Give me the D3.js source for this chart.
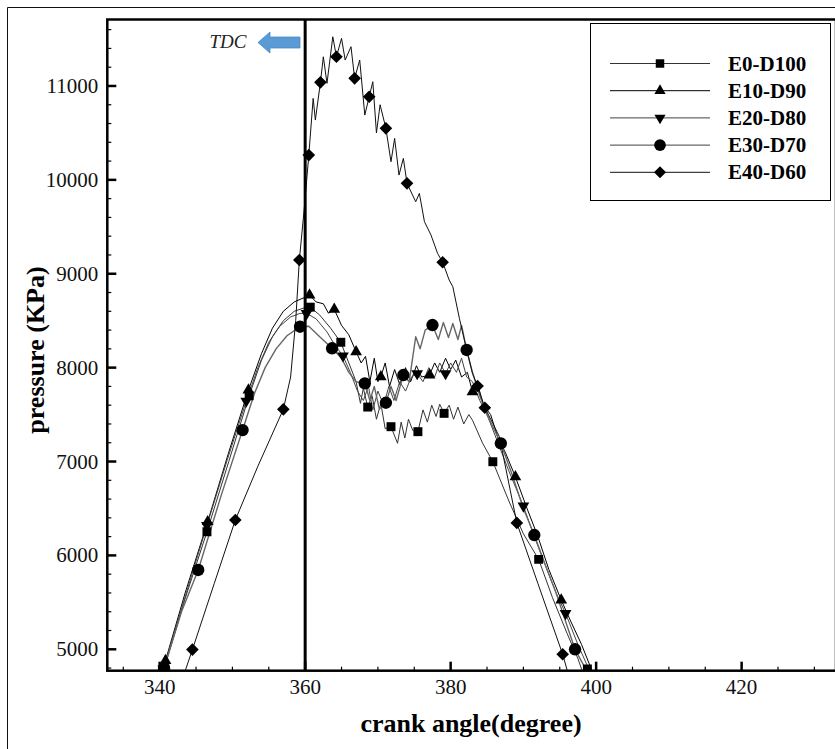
<!DOCTYPE html>
<html>
<head>
<meta charset="utf-8">
<script src="https://cdn.jsdelivr.net/npm/d3@7"></script>
<style>
  body { margin: 0; background: #fff; }
  svg { display: block; }
</style>
</head>
<body>
<svg id="chart" width="835" height="749"></svg>
<script>
// series names, shown in the legend
var seriesNames = ["E0-D100", "E10-D90", "E20-D80", "E30-D70", "E40-D60"];

// line data [crank angle, pressure kPa]
var lineE0 = [[340.3,4700],[340.7,4815],[343.5,5540],[346.5,6252],[349.5,7000],[352.3,7700],[354,8080],[355.5,8330],[357,8500],[358.5,8600],[360.0,8640],[360.7,8644],[362.0,8560],[363.5,8420],[364.9,8270],[366.0,8050],[367.0,7850],[367.6,7620],[368.0,7780],[368.6,7580],[369.2,7700],[369.8,7450],[370.4,7620],[371.0,7350],[371.8,7371],[372.7,7194],[373.2,7420],[373.7,7250],[374.2,7450],[374.8,7330],[375.5,7318],[376.2,7550],[376.8,7420],[377.4,7600],[378.0,7480],[378.5,7610],[379.1,7513],[379.8,7600],[380.4,7450],[381.0,7580],[381.8,7400],[382.5,7500],[383.0,7440],[384.4,7194],[385.8,6998],[388,6580],[390,6230],[392.1,5958],[394,5550],[396,5170],[397.5,4900],[398.4,4700]];
var lineE10 = [[340.4,4700],[340.8,4880],[343.5,5600],[346.6,6359],[349.5,7100],[352.2,7760],[354,8150],[355.5,8420],[357,8600],[358.5,8700],[360.0,8750],[360.6,8773],[361.5,8700],[362.5,8680],[363.2,8580],[364.0,8621],[365.0,8450],[366.0,8350],[367.0,8169],[367.7,8050],[368.3,8120],[368.9,7850],[369.5,8100],[370.0,7850],[370.4,7903],[371.0,8050],[371.6,7800],[372.3,7980],[373.0,7820],[373.8,8000],[374.5,7850],[375.3,8020],[376.0,7900],[377.1,7921],[377.8,8050],[378.5,7950],[379.3,8100],[380.0,7980],[380.7,8080],[381.5,7900],[382.3,7950],[383.0,7743],[383.8,7800],[384.5,7600],[385.5,7500],[386.5,7250],[387.5,7100],[388.9,6838],[390.5,6500],[392,6200],[393.5,5850],[395.2,5525],[396.5,5300],[398,5050],[399.8,4700]];
var lineE20 = [[340.3,4700],[340.5,4790],[343.5,5560],[346.5,6320],[349.3,7020],[351.9,7644],[353.5,8000],[355,8270],[356.5,8440],[358,8540],[359.3,8578],[360.2,8578],[361.5,8520],[363,8380],[364,8250],[365.2,8126],[366.2,7950],[367.2,7750],[368,7650],[368.7,7800],[369.3,7550],[370,7750],[370.8,7600],[371.5,7800],[372.2,7650],[373,7850],[373.8,7750],[374.6,7900],[375.4,7937],[376.2,7850],[377,8000],[377.8,7900],[378.5,8050],[379.3,7937],[380,8050],[380.8,7950],[381.5,8100],[382.2,7900],[383,7850],[384,7650],[385,7500],[386.5,7200],[388,6900],[390,6526],[391.5,6200],[393,5900],[394.5,5600],[395.8,5383],[397.5,5050],[399.5,4700]];
var lineE30 = [[340.3,4700],[340.6,4800],[343,5400],[345.3,5845],[348.5,6650],[351.4,7335],[353,7720],[354.5,8000],[356,8200],[357.5,8340],[359.3,8436],[360.5,8440],[362,8330],[363.7,8206],[365,8100],[366,7950],[367,7850],[368.2,7833],[368.9,7650],[369.5,7800],[370.2,7560],[371.1,7626],[371.8,7800],[372.5,7650],[373.5,7921],[374.3,7850],[375.2,8330],[375.8,8200],[376.5,8400],[377.5,8454],[378.3,8300],[379,8480],[379.7,8320],[380.3,8470],[381,8300],[381.5,8450],[382.2,8188],[383,7950],[384,7700],[385,7500],[386.9,7194],[388.5,6850],[390,6500],[391.5,6217],[393,5900],[394.5,5600],[396,5250],[397.1,5000],[399.2,4700]];
var lineE40 = [[343.2,4700],[344.5,4997],[347.5,5700],[350.4,6377],[353.5,6950],[357.0,7556],[358.0,7900],[358.7,8500],[359.2,9146],[359.9,9714],[360.5,10264],[361.1,10868],[361.4,10637],[362.1,11039],[362.5,11311],[363.0,11028],[363.8,11524],[364.3,11311],[365.0,11507],[365.5,11276],[366.3,11418],[366.8,11081],[367.5,11276],[368.2,10690],[368.8,10885],[369.3,11045],[369.8,10500],[370.3,10800],[371.1,10549],[371.8,10193],[372.3,10442],[372.9,10051],[373.5,10229],[374.0,9963],[375.2,9767],[375.7,9856],[376.4,9554],[377.3,9412],[378.2,9217],[378.9,9122],[379.8,8933],[380.3,8862],[381.2,8525],[382.1,8223],[383.0,7939],[383.7,7804],[384.7,7573],[385.8,7407],[386.7,7264],[389.1,6346],[392,5700],[395.4,4947],[396.3,4700]];

// marker positions [crank angle, pressure kPa]
var markE0 = [[340.7,4815],[346.5,6252],[352.3,7700],[360.7,8644],[364.9,8270],[368.6,7580],[371.8,7371],[375.5,7318],[379.1,7513],[385.8,6998],[392.1,5958],[398.8,4790]];
var markE10 = [[340.8,4880],[346.6,6359],[352.2,7760],[360.6,8773],[364.0,8621],[367.0,8169],[370.4,7903],[377.1,7921],[383.0,7743],[388.9,6838],[395.2,5525]];
var markE20 = [[340.5,4790],[346.5,6320],[351.9,7644],[360.2,8578],[365.2,8126],[375.4,7937],[379.3,7937],[390.0,6526],[395.8,5383]];
var markE30 = [[340.6,4800],[345.3,5845],[351.4,7335],[359.3,8436],[363.7,8206],[368.2,7833],[371.1,7626],[373.5,7921],[377.5,8454],[382.2,8188],[386.9,7194],[391.5,6217],[397.1,5000]];
var markE40 = [[344.5,4997],[350.4,6377],[357.0,7556],[359.2,9146],[360.5,10264],[362.1,11039],[364.3,11311],[366.8,11081],[368.8,10885],[371.1,10549],[374.0,9963],[378.9,9122],[383.7,7804],[384.7,7573],[389.1,6346],[395.4,4947]];

var xTicks = [340, 360, 380, 400, 420];
var yTicks = [5000, 6000, 7000, 8000, 9000, 10000, 11000];
var tdcAngle = 360;

var svg = d3.select("#chart");
var pLeft = 107.3, pRight = 834, pTop = 19.5, pBottom = 670.7;

var x = d3.scaleLinear().domain([332.8, 432.7]).range([pLeft, pRight]);
var y = d3.scaleLinear().domain([4772, 11708]).range([pBottom, pTop]);

// outer frame of the figure
svg.append("path")
  .attr("d", "M7.5,749 V7.5 H835")
  .attr("fill", "none")
  .attr("stroke", "#111")
  .attr("stroke-width", 1);

svg.append("defs").append("clipPath").attr("id", "plotClip")
  .append("rect")
  .attr("x", pLeft).attr("y", pTop)
  .attr("width", pRight - pLeft).attr("height", pBottom - pTop);

var series = [
  { name: seriesNames[0], line: lineE0, marks: markE0, sym: d3.symbolSquare, size: 80, rot: 0, color: "#333", w: 1 },
  { name: seriesNames[1], line: lineE10, marks: markE10, sym: d3.symbolTriangle, size: 60, rot: 0, color: "#000", w: 1 },
  { name: seriesNames[2], line: lineE20, marks: markE20, sym: d3.symbolTriangle, size: 60, rot: 180, color: "#444", w: 1 },
  { name: seriesNames[3], line: lineE30, marks: markE30, sym: d3.symbolCircle, size: 120, rot: 0, color: "#666", w: 1.4 },
  { name: seriesNames[4], line: lineE40, marks: markE40, sym: d3.symbolSquare, size: 80, rot: 45, color: "#111", w: 1 }
];

var plot = svg.append("g").attr("clip-path", "url(#plotClip)");
var line = d3.line().x(d => x(d[0])).y(d => y(d[1]));

series.forEach(function(s) {
  plot.append("path")
    .datum(s.line)
    .attr("d", line)
    .attr("fill", "none")
    .attr("stroke", s.color)
    .attr("stroke-width", s.w)
    .attr("stroke-linejoin", "round");
});

series.forEach(function(s) {
  plot.selectAll(null)
    .data(s.marks)
    .enter()
    .append("path")
    .attr("d", d3.symbol().type(s.sym).size(s.size))
    .attr("transform", d => "translate(" + x(d[0]) + "," + y(d[1]) + ")rotate(" + s.rot + ")")
    .attr("fill", "#000");
});

// TDC line
svg.append("line")
  .attr("x1", x(tdcAngle)).attr("x2", x(tdcAngle))
  .attr("y1", pTop).attr("y2", pBottom)
  .attr("stroke", "#000")
  .attr("stroke-width", 3);

// TDC label and arrow
svg.append("text")
  .attr("x", 228).attr("y", 48)
  .attr("text-anchor", "middle")
  .style("font-family", "Liberation Serif, serif")
  .style("font-style", "italic")
  .style("font-size", "19px")
  .attr("fill", "#222")
  .text("TDC");

svg.append("path")
  .attr("d", "M258,42.5 L270,32 L270,37 L300,37 L300,48 L270,48 L270,53 Z")
  .attr("fill", "#5b9bd5")
  .attr("stroke", "#4a8ac4")
  .attr("stroke-width", 0.8);

// axes, ticks inside
var minorX = d3.range(335, 433, 5).filter(v => xTicks.indexOf(v) < 0);
var minorY = d3.range(4800, 11700, 200).filter(v => yTicks.indexOf(v) < 0);

var axes = svg.append("g").attr("stroke", "#000");
axes.selectAll(null).data(xTicks).enter().append("line")
  .attr("x1", d => x(d)).attr("x2", d => x(d))
  .attr("y1", pBottom).attr("y2", pBottom - 9)
  .attr("stroke-width", 2.5);
axes.selectAll(null).data(minorX).enter().append("line")
  .attr("x1", d => x(d)).attr("x2", d => x(d))
  .attr("y1", pBottom).attr("y2", pBottom - 4)
  .attr("stroke-width", 1.2);
axes.selectAll(null).data(yTicks).enter().append("line")
  .attr("x1", pLeft).attr("x2", pLeft + 9)
  .attr("y1", d => y(d)).attr("y2", d => y(d))
  .attr("stroke-width", 2.5);
axes.selectAll(null).data(minorY).enter().append("line")
  .attr("x1", pLeft).attr("x2", pLeft + 4)
  .attr("y1", d => y(d)).attr("y2", d => y(d))
  .attr("stroke-width", 1.2);

svg.append("rect")
  .attr("x", pLeft).attr("y", pTop)
  .attr("width", pRight - pLeft + 2).attr("height", pBottom - pTop)
  .attr("fill", "none")
  .attr("stroke", "#000")
  .attr("stroke-width", 2.5);

svg.selectAll(".xlab").data(xTicks).enter().append("text")
  .attr("x", d => x(d)).attr("y", pBottom + 23)
  .attr("text-anchor", "middle")
  .style("font-family", "Liberation Serif, serif")
  .style("font-size", "21px")
  .attr("fill", "#111")
  .text(d => d);

svg.selectAll(".ylab").data(yTicks).enter().append("text")
  .attr("x", pLeft - 9).attr("y", d => y(d) + 7)
  .attr("text-anchor", "end")
  .style("font-family", "Liberation Serif, serif")
  .style("font-size", "21px")
  .attr("fill", "#111")
  .text(d => d);

svg.append("text")
  .attr("x", 471).attr("y", 732)
  .attr("text-anchor", "middle")
  .style("font-family", "Liberation Serif, serif")
  .style("font-weight", "bold")
  .style("font-size", "26px")
  .text("crank angle(degree)");

svg.append("text")
  .attr("transform", "translate(44,350)rotate(-90)")
  .attr("text-anchor", "middle")
  .style("font-family", "Liberation Serif, serif")
  .style("font-weight", "bold")
  .style("font-size", "26px")
  .text("pressure (KPa)");

// legend
var legend = svg.append("g");
legend.append("rect")
  .attr("x", 590.5).attr("y", 23.5)
  .attr("width", 240).attr("height", 177)
  .attr("fill", "#fff")
  .attr("stroke", "#000")
  .attr("stroke-width", 1);

series.forEach(function(s, i) {
  var ly = 63.5 + i * 27.2;
  legend.append("line")
    .attr("x1", 610).attr("x2", 710)
    .attr("y1", ly).attr("y2", ly)
    .attr("stroke", s.color)
    .attr("stroke-width", s.w);
  legend.append("path")
    .attr("d", d3.symbol().type(s.sym).size(s.size * 0.9))
    .attr("transform", "translate(660," + ly + ")rotate(" + s.rot + ")")
    .attr("fill", "#000");
  legend.append("text")
    .attr("x", 728).attr("y", ly + 7)
    .style("font-family", "Liberation Serif, serif")
    .style("font-weight", "bold")
    .style("font-size", "21px")
    .text(s.name);
});
</script>
</body>
</html>
